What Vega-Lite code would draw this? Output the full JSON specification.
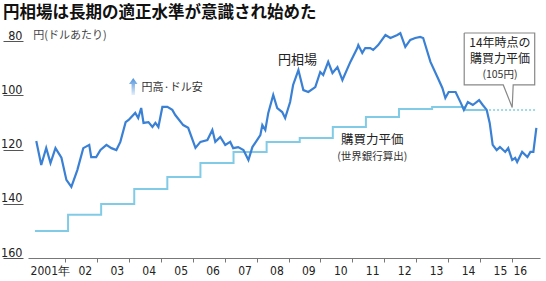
{
  "$schema": "https://vega.github.io/schema/vega-lite/v6.json",
  "width": 512,
  "height": 217,
  "autosize": {"type": "none"},
  "padding": {"left": 28, "top": 41, "right": 6, "bottom": 23},
  "background": "white",
  "config": {"view": {"stroke": null}, "font": "Noto Sans CJK JP"},
  "title": {
    "text": "円相場は長期の適正水準が意識され始めた",
    "anchor": "start",
    "frame": "group",
    "dx": -25,
    "offset": 7,
    "font": "Noto Sans CJK JP",
    "fontSize": 16.5,
    "fontWeight": "bold",
    "color": "#111"
  },
  "datasets": {
    "yen": [
      {"t": 2001.04, "v": 116.9}, {"t": 2001.19, "v": 125.7}, {"t": 2001.34, "v": 119.4}, {"t": 2001.47, "v": 125.0},
      {"t": 2001.62, "v": 119.5}, {"t": 2001.80, "v": 123.0}, {"t": 2001.95, "v": 131.2}, {"t": 2002.10, "v": 133.8},
      {"t": 2002.28, "v": 127.6}, {"t": 2002.46, "v": 119.5}, {"t": 2002.64, "v": 118.3}, {"t": 2002.70, "v": 122.8},
      {"t": 2002.85, "v": 122.8}, {"t": 2002.98, "v": 120.2}, {"t": 2003.16, "v": 118.3}, {"t": 2003.31, "v": 119.5},
      {"t": 2003.46, "v": 120.2}, {"t": 2003.58, "v": 117.2}, {"t": 2003.74, "v": 109.9}, {"t": 2003.83, "v": 109.1},
      {"t": 2004.03, "v": 106.5}, {"t": 2004.12, "v": 108.4}, {"t": 2004.21, "v": 104.7}, {"t": 2004.28, "v": 110.2},
      {"t": 2004.43, "v": 109.9}, {"t": 2004.55, "v": 111.7}, {"t": 2004.64, "v": 110.2}, {"t": 2004.73, "v": 111.7},
      {"t": 2004.85, "v": 104.3}, {"t": 2005.00, "v": 104.3}, {"t": 2005.15, "v": 105.4}, {"t": 2005.24, "v": 107.3},
      {"t": 2005.48, "v": 111.0}, {"t": 2005.63, "v": 112.0}, {"t": 2005.85, "v": 119.4}, {"t": 2006.00, "v": 117.2},
      {"t": 2006.21, "v": 116.5}, {"t": 2006.36, "v": 112.8}, {"t": 2006.45, "v": 117.2}, {"t": 2006.60, "v": 115.4},
      {"t": 2006.75, "v": 118.3}, {"t": 2006.90, "v": 117.2}, {"t": 2006.99, "v": 119.5}, {"t": 2007.14, "v": 119.1},
      {"t": 2007.30, "v": 120.2}, {"t": 2007.45, "v": 123.9}, {"t": 2007.57, "v": 119.1}, {"t": 2007.75, "v": 115.8},
      {"t": 2007.81, "v": 114.7}, {"t": 2007.87, "v": 111.0}, {"t": 2007.96, "v": 112.8}, {"t": 2008.05, "v": 106.5},
      {"t": 2008.20, "v": 99.9}, {"t": 2008.32, "v": 104.7}, {"t": 2008.47, "v": 106.2}, {"t": 2008.56, "v": 108.4},
      {"t": 2008.71, "v": 102.5}, {"t": 2008.80, "v": 96.2}, {"t": 2008.96, "v": 90.7}, {"t": 2009.11, "v": 98.1},
      {"t": 2009.26, "v": 98.8}, {"t": 2009.47, "v": 97.0}, {"t": 2009.62, "v": 91.4}, {"t": 2009.71, "v": 92.5},
      {"t": 2009.86, "v": 87.7}, {"t": 2009.99, "v": 91.8}, {"t": 2010.14, "v": 89.6}, {"t": 2010.29, "v": 94.4},
      {"t": 2010.53, "v": 87.7}, {"t": 2010.74, "v": 82.6}, {"t": 2010.77, "v": 81.5}, {"t": 2010.89, "v": 84.4},
      {"t": 2010.98, "v": 82.6}, {"t": 2011.13, "v": 82.6}, {"t": 2011.22, "v": 83.3}, {"t": 2011.37, "v": 81.5},
      {"t": 2011.59, "v": 77.8}, {"t": 2011.74, "v": 78.9}, {"t": 2011.95, "v": 77.8}, {"t": 2012.04, "v": 77.1},
      {"t": 2012.19, "v": 82.2}, {"t": 2012.34, "v": 79.6}, {"t": 2012.49, "v": 78.9}, {"t": 2012.64, "v": 78.5},
      {"t": 2012.73, "v": 78.9}, {"t": 2012.95, "v": 87.7}, {"t": 2013.16, "v": 93.3}, {"t": 2013.31, "v": 97.3},
      {"t": 2013.40, "v": 101.0}, {"t": 2013.50, "v": 98.8}, {"t": 2013.71, "v": 98.8}, {"t": 2013.87, "v": 102.9},
      {"t": 2013.96, "v": 105.4}, {"t": 2014.08, "v": 102.5}, {"t": 2014.23, "v": 103.6}, {"t": 2014.42, "v": 101.8},
      {"t": 2014.53, "v": 103.6}, {"t": 2014.65, "v": 105.4}, {"t": 2014.74, "v": 110.2}, {"t": 2014.83, "v": 118.3},
      {"t": 2014.95, "v": 120.2}, {"t": 2015.05, "v": 119.1}, {"t": 2015.21, "v": 120.9}, {"t": 2015.30, "v": 119.5},
      {"t": 2015.42, "v": 123.9}, {"t": 2015.51, "v": 123.1}, {"t": 2015.57, "v": 124.6}, {"t": 2015.72, "v": 120.9},
      {"t": 2015.88, "v": 122.8}, {"t": 2015.97, "v": 120.9}, {"t": 2016.06, "v": 120.9}, {"t": 2016.15, "v": 112.0}
    ],
    "ppp": [
      {"t": 2001.0, "v": 150.0}, {"t": 2002.0, "v": 144.1}, {"t": 2003.0, "v": 140.1}, {"t": 2004.0, "v": 134.6},
      {"t": 2005.0, "v": 130.1}, {"t": 2006.0, "v": 125.0}, {"t": 2007.0, "v": 120.9}, {"t": 2008.0, "v": 117.2},
      {"t": 2009.0, "v": 115.8}, {"t": 2010.0, "v": 111.7}, {"t": 2011.0, "v": 108.0}, {"t": 2012.0, "v": 105.1},
      {"t": 2013.0, "v": 104.3}, {"t": 2014.0, "v": 105.4}, {"t": 2014.6, "v": 105.4}
    ],
    "pppext": [{"t": 2014.6, "v": 105.4}, {"t": 2016.15, "v": 105.4}],
    "box": [
      {"i": 0, "t": 2013.97, "v": 77.05}, {"i": 1, "t": 2016.10, "v": 77.05}, {"i": 2, "t": 2016.10, "v": 96.2},
      {"i": 3, "t": 2015.45, "v": 96.2}, {"i": 4, "t": 2015.42, "v": 104.5}, {"i": 5, "t": 2015.15, "v": 96.2},
      {"i": 6, "t": 2013.97, "v": 96.2}, {"i": 7, "t": 2013.97, "v": 77.05}
    ],
    "years": [
      {"year": 2001}, {"year": 2002}, {"year": 2003}, {"year": 2004}, {"year": 2005}, {"year": 2006}, {"year": 2007}, {"year": 2008},
      {"year": 2009}, {"year": 2010}, {"year": 2011}, {"year": 2012}, {"year": 2013}, {"year": 2014}, {"year": 2015}, {"year": 2016}
    ]
  },
  "layer": [
    {
      "encoding": {
        "x": {"field": "t", "type": "quantitative", "scale": {"domain": [2000.79, 2016.26], "nice": false, "zero": false}, "axis": null},
        "y": {
          "field": "v", "type": "quantitative",
          "scale": {"domain": [80, 160], "reverse": true, "nice": false, "zero": false},
          "axis": {
            "title": null, "values": [80, 100, 120, 140, 160], "domain": false, "grid": false, "offset": 5,
            "ticks": true, "tickSize": 20, "tickColor": "#555", "tickWidth": 1,
            "labelPadding": -19, "labelAlign": "right", "labelBaseline": "alphabetic", "labelOffset": -2,
            "labelFont": "Liberation Sans Narrow, DejaVu Sans Condensed, sans-serif", "labelFontSize": 12.5, "labelColor": "#222"
          }
        }
      },
      "layer": [
        {"data": {"name": "ppp"}, "mark": {"type": "line", "interpolate": "step-after", "color": "#82cbe6", "strokeWidth": 2}},
        {"data": {"name": "pppext"}, "mark": {"type": "line", "color": "#82cbe6", "strokeWidth": 1.5, "strokeDash": [2, 2]}},
        {"data": {"name": "yen"}, "mark": {"type": "line", "color": "#3a80d4", "strokeWidth": 2.2}},
        {"data": {"name": "box"}, "mark": {"type": "line", "color": "#888", "strokeWidth": 1.2}, "encoding": {"order": {"field": "i", "type": "quantitative"}}},
        {"data": {"values": [{"t": 2000.95, "v": 78.2, "txt": "円(ドルあたり)"}]}, "mark": {"type": "text", "align": "left", "baseline": "middle", "fontSize": 11, "color": "#444"}, "encoding": {"text": {"field": "txt"}}},
        {"data": {"values": [{"t": 2008.93, "v": 87.0, "txt": "円相場"}]}, "mark": {"type": "text", "align": "center", "baseline": "middle", "fontSize": 13, "color": "#222"}, "encoding": {"text": {"field": "txt"}}},
        {"data": {"values": [{"t": 2004.22, "v": 97.3, "txt": "円高·ドル安"}]}, "mark": {"type": "text", "align": "left", "baseline": "middle", "fontSize": 11, "color": "#333"}, "encoding": {"text": {"field": "txt"}}},
        {"data": {"values": [{"t": 2003.97, "v": 96.8}]}, "mark": {"type": "point", "shape": "M0,-1L0.5,-0.3L0.2,-0.3L0.2,1L-0.2,1L-0.2,-0.3L-0.5,-0.3Z", "filled": true, "size": 289, "strokeWidth": 0, "opacity": 1, "fill": {"gradient": "linear", "x1": 0, "y1": 0, "x2": 0, "y2": 1, "stops": [{"offset": 0, "color": "#4f92dc"}, {"offset": 1, "color": "#e3eefa"}]}}},
        {"data": {"values": [{"t": 2011.19, "v": 116.4, "txt": "購買力平価"}]}, "mark": {"type": "text", "align": "center", "baseline": "middle", "fontSize": 12.5, "color": "#222"}, "encoding": {"text": {"field": "txt"}}},
        {"data": {"values": [{"t": 2011.19, "v": 122.6, "txt": "(世界銀行算出)"}]}, "mark": {"type": "text", "align": "center", "baseline": "middle", "fontSize": 10.5, "color": "#333"}, "encoding": {"text": {"field": "txt"}}},
        {"data": {"values": [{"t": 2015.05, "v": 80.9, "txt": "14年時点の"}, {"t": 2015.05, "v": 86.7, "txt": "購買力平価"}]}, "mark": {"type": "text", "align": "center", "baseline": "middle", "fontSize": 12, "color": "#222"}, "encoding": {"text": {"field": "txt"}}},
        {"data": {"values": [{"t": 2015.05, "v": 92.6, "txt": "(105円)"}]}, "mark": {"type": "text", "align": "center", "baseline": "middle", "fontSize": 10.5, "color": "#333"}, "encoding": {"text": {"field": "txt"}}}
      ]
    },
    {
      "data": {"name": "years"},
      "mark": {"type": "point", "opacity": 0},
      "encoding": {
        "x": {
          "field": "year", "type": "quantitative",
          "scale": {"domain": [2000.841, 2016.877], "nice": false, "zero": false},
          "axis": {
            "orient": "bottom", "title": null, "values": [2001, 2002, 2003, 2004, 2005, 2006, 2007, 2008, 2009, 2010, 2011, 2012, 2013, 2014, 2015, 2016],
            "grid": false, "domain": true, "domainColor": "#777", "domainWidth": 1.2,
            "ticks": true, "tickSize": 4, "tickColor": "#777",
            "tickOpacity": {"condition": {"test": "datum.value == 2001", "value": 0}, "value": 1},
            "labelExpr": "datum.value == 2001 ? '2001年' : format(datum.value % 100, '02d')",
            "labelAlign": "left",
            "labelOffset": {"condition": [{"test": "datum.value == 2001", "value": -3}, {"test": "datum.value == 2016", "value": 1}], "value": 13},
            "labelFont": "Liberation Sans Narrow, DejaVu Sans Condensed, sans-serif", "labelFontSize": 12, "labelColor": "#222",
            "labelPadding": 3, "labelFlush": false, "labelOverlap": false
          }
        }
      }
    }
  ],
  "resolve": {"scale": {"x": "independent"}}
}
